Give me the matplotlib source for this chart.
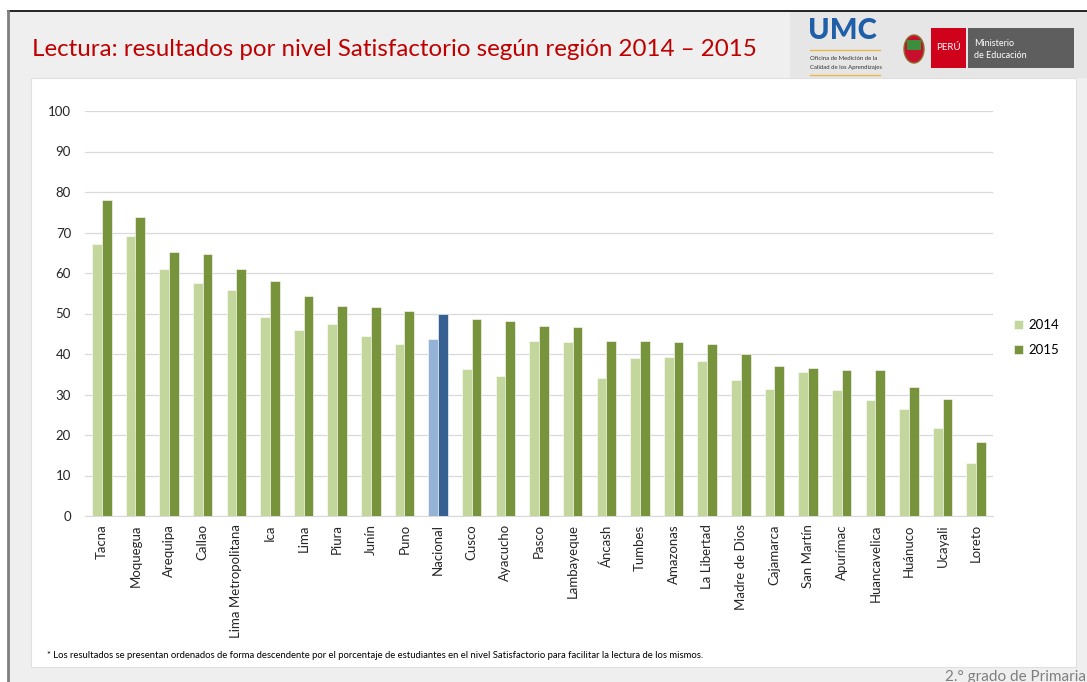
import numpy as np
import matplotlib
matplotlib.use("Agg")
import matplotlib.pyplot as plt
from matplotlib.patches import Rectangle, Ellipse

regions = ["Tacna", "Moquegua", "Arequipa", "Callao", "Lima Metropolitana", "Ica",
           "Lima", "Piura", "Junín", "Puno", "Nacional", "Cusco", "Ayacucho", "Pasco",
           "Lambayeque", "Áncash", "Tumbes", "Amazonas", "La Libertad", "Madre de Dios",
           "Cajamarca", "San Martín", "Apurímac", "Huancavelica", "Huánuco", "Ucayali",
           "Loreto"]
vals_2014 = [67.2, 69.1, 61.0, 57.5, 55.8, 49.1, 45.9, 47.4, 44.4, 42.5, 43.7, 36.3,
             34.6, 43.2, 43.0, 34.1, 39.0, 39.3, 38.3, 33.6, 31.4, 35.6, 31.1, 28.6,
             26.4, 21.7, 13.1]
vals_2015 = [78.0, 73.8, 65.2, 64.6, 61.1, 58.1, 54.3, 51.9, 51.7, 50.6, 49.9, 48.7,
             48.2, 46.9, 46.6, 43.3, 43.3, 43.0, 42.5, 40.0, 37.1, 36.6, 36.0, 36.0,
             31.9, 28.9, 18.2]
years = ["2014", "2015"]

FONT = ["Lato", "DejaVu Sans"]
plt.rcParams["font.family"] = FONT

W, H = 1087, 682
fig = plt.figure(figsize=(W / 100, H / 100), dpi=100)

# background / slide decorations in pixel coordinates
bg = fig.add_axes([0, 0, 1, 1])
bg.set_xlim(0, W)
bg.set_ylim(H, 0)
bg.axis("off")
bg.add_patch(Rectangle((8, 11), W - 8, H - 11, facecolor="#EFEFEF", edgecolor="none"))
bg.add_patch(Rectangle((790, 11), W - 790, 67, facecolor="#E6E6E6", edgecolor="none"))
bg.plot([8, W], [11, 11], color="black", lw=1.2)
bg.plot([8, 8], [11, H], color="#7F7F7F", lw=2)
bg.add_patch(Rectangle((31, 78), 1045, 589, facecolor="white", edgecolor="#E0E0E0", lw=0.8))

bg.text(32, 49, "Lectura: resultados por nivel Satisfactorio según región 2014 – 2015",
        color="#C00000", fontsize=17.4, va="center", ha="left")

# logos
bg.text(808, 31, "UMC", color="#1F5FA8", fontsize=21, fontweight="black", va="center", ha="left")
bg.plot([810, 880], [50, 50], color="#E8B84A", lw=1)
bg.plot([810, 880], [75, 75], color="#E8B84A", lw=1)
bg.text(810, 59, "Oficina de Medición de la", fontsize=4.3, va="center", ha="left", color="#333333")
bg.text(810, 67, "Calidad de los Aprendizajes", fontsize=4.3, va="center", ha="left", color="#333333")
bg.add_patch(Ellipse((914, 49), 20, 28, facecolor="#C8102E", edgecolor="#8C6D2C", lw=1))
bg.add_patch(Rectangle((907, 40), 14, 10, facecolor="#3C8D3C", edgecolor="none"))
bg.add_patch(Rectangle((931, 28), 35, 40, facecolor="#D0021B", edgecolor="none"))
bg.text(948, 48, "PERÚ", color="white", fontsize=7, va="center", ha="center")
bg.add_patch(Rectangle((968, 28), 106, 40, facecolor="#5E5E5E", edgecolor="none"))
bg.text(974, 43, "Ministerio", color="white", fontsize=6.5, va="center", ha="left")
bg.text(974, 55, "de Educación", color="white", fontsize=6.5, va="center", ha="left")

bg.text(47, 656, "* Los resultados se presentan ordenados de forma descendente por el porcentaje "
        "de estudiantes en el nivel Satisfactorio para facilitar la lectura de los mismos.",
        fontsize=6.8, va="center", ha="left", color="black")
bg.text(1086, 677, "2.° grado de Primaria", fontsize=11, va="center", ha="right", color="#7F7F7F")

# chart
ax = fig.add_axes([85 / W, 166 / H, 908 / W, 405 / H])
x = np.arange(len(regions))
w = 0.29
c14 = ["#95B3D7" if r == "Nacional" else "#C3D69B" for r in regions]
c15 = ["#376092" if r == "Nacional" else "#77933C" for r in regions]
ax.bar(x - w / 2, vals_2014, w, color=c14, edgecolor="white", lw=0.4, label=years[0], zorder=3)
ax.bar(x + w / 2, vals_2015, w, color=c15, edgecolor="white", lw=0.4, label=years[1], zorder=3)

ax.set_xlim(-0.5, len(regions) - 0.5)
ax.set_ylim(0, 100)
ax.set_yticks(np.arange(0, 101, 10))
ax.yaxis.grid(True, color="#D9D9D9", lw=0.9, zorder=0)
for s in ["top", "right", "left"]:
    ax.spines[s].set_visible(False)
ax.spines["bottom"].set_color("#D9D9D9")
ax.tick_params(axis="both", length=0, labelsize=9.5, colors="#262626")
ax.tick_params(axis="y", pad=10)
ax.tick_params(axis="x", pad=6)
ax.set_xticks(x)
ax.set_xticklabels(regions, rotation=90, va="top", ha="center")

leg = ax.legend(loc="center left", bbox_to_anchor=(1.01, 0.44), frameon=False, fontsize=9.5,
                handlelength=0.7, handleheight=0.7, handletextpad=0.4, labelspacing=1.0)

fig.savefig("out.png", dpi=100)
